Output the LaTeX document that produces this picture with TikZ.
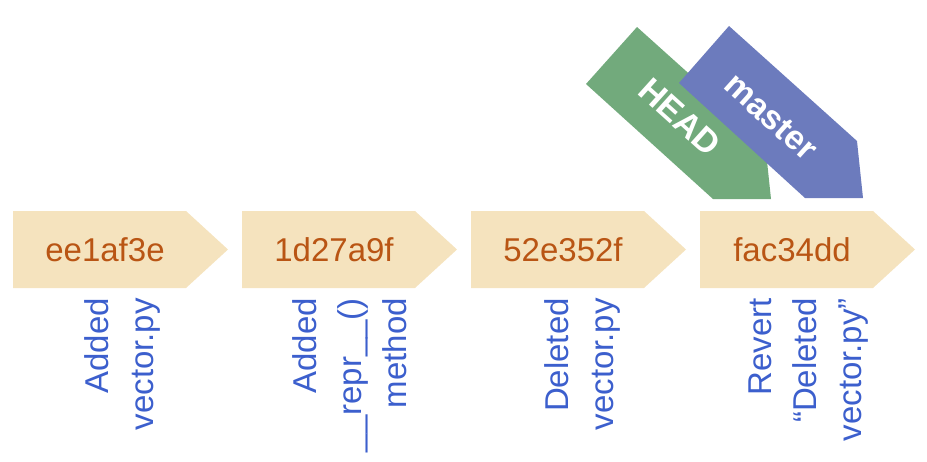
\documentclass[tikz,border=0pt]{standalone}
\usepackage{fontspec}
\setmainfont{Liberation Sans}
\definecolor{boxfill}{RGB}{245,227,190}
\definecolor{hashcol}{RGB}{185,85,20}
\definecolor{lblcol}{RGB}{60,95,205}
\definecolor{headcol}{RGB}{114,170,124}
\definecolor{mastercol}{RGB}{108,123,189}
\begin{document}
\begin{tikzpicture}[x=1pt,y=-1pt,
  commitbox/.style={fill=boxfill},
  hash/.style={text=hashcol,font=\fontsize{33}{40}\selectfont,inner sep=0pt},
  lbl/.style={text=lblcol,font=\fontsize{33}{45}\selectfont,inner sep=0pt,rotate=90,anchor=east,align=right},
  flag/.style={text=white,font=\fontsize{34}{40}\selectfont\bfseries,inner sep=0pt,rotate=-42}]
\useasboundingbox (0,0) rectangle (927,461);
\foreach \l/\h/\n in {13/ee1af3e/c1,242/1d27a9f/c2,471/52e352f/c3,700/fac34dd/c4}{
  \fill[commitbox] (\l,211) -- ++(173,0) -- ++(42,38.5) -- ++(-42,38.5) -- ++(-173,0) -- cycle;
  \node[hash] (\n) at (\l+92,250) {\h};
}
\node[lbl] (l1) at (122,298) {Added\\vector.py};
\node[lbl] (l2) at (350,298) {Added\\\_\_repr\_\_()\\method};
\node[lbl] (l3) at (582,298) {Deleted\\vector.py};
\node[lbl] (l4) at (809,298) {Revert\\“Deleted\\vector.py”};
\fill[headcol] (637,27) -- (765,142) -- (771,199) -- (713,199) -- (586,84) -- cycle;
\node[flag] (head) at (680,117) {HEAD};
\fill[mastercol] (729,26) -- (857,141) -- (863,198) -- (805,198) -- (679,83) -- cycle;
\node[flag] (master) at (771,117) {master};
\end{tikzpicture}
\end{document}
